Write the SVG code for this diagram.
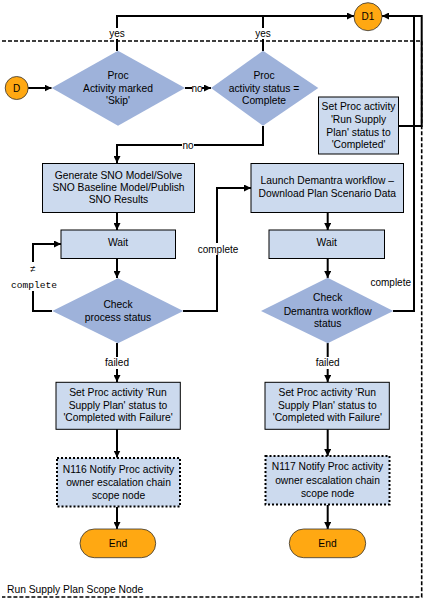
<svg xmlns="http://www.w3.org/2000/svg" width="432" height="600" viewBox="0 0 432 600">
<style>
text{font-family:"Liberation Sans",Arial,sans-serif;font-size:10.3px;fill:#000;text-anchor:middle}
.lbl{font-size:10px}
.mono{font-family:"Liberation Mono","Courier New",monospace;font-size:9.6px}
.box{fill:#CCDAEE;stroke:#000;stroke-width:1}
.dot{fill:#CCDAEE;stroke:#000;stroke-width:2;stroke-dasharray:2 2}
.dia{fill:#9EB2DA;stroke:none}
.term{fill:#FFA812;stroke:#333;stroke-width:0.8}
.ln{fill:none;stroke:#000;stroke-width:2}
.bg{fill:#fff}
.scope{fill:none;stroke:#000;stroke-width:1.6;stroke-dasharray:4 2}
</style>
<defs>
<marker id="ah" markerUnits="userSpaceOnUse" markerWidth="7" markerHeight="7" refX="7" refY="3.5" orient="auto">
<path d="M0,0 L7,3.5 L0,7 z" fill="#000"/>
</marker>
</defs>
<rect width="432" height="600" fill="#fff"/>
<g id="scope">
<path class="scope" d="M2,41 H421.7 V597 H2"/>
<text x="7" y="593" style="text-anchor:start">Run Supply Plan Scope Node</text>
</g>
<g id="connectors">
<path class="ln" d="M28,88 H51.5" marker-end="url(#ah)"/>
<path class="ln" d="M185,88 H211" marker-end="url(#ah)"/>
<path class="ln" d="M117,51 V16 H354" marker-end="url(#ah)"/>
<path class="ln" d="M263,51 V16"/>
<path class="ln" d="M263,126 V145 H117 V163" marker-end="url(#ah)"/>
<path class="ln" d="M117,212 V230" marker-end="url(#ah)"/>
<path class="ln" d="M117,258 V278" marker-end="url(#ah)"/>
<path class="ln" d="M52,311 H33 V244 H61" marker-end="url(#ah)"/>
<path class="ln" d="M183,311 H217 V188 H251" marker-end="url(#ah)"/>
<path class="ln" d="M327.7,212 V230" marker-end="url(#ah)"/>
<path class="ln" d="M327.7,258 V278" marker-end="url(#ah)"/>
<path class="ln" d="M393,311 H414 V16 H382" marker-end="url(#ah)"/>
<path class="ln" d="M398,126 H421.7 V16 H413"/>
<path class="ln" d="M117,343 V382" marker-end="url(#ah)"/>
<path class="ln" d="M117,429 V457.5" marker-end="url(#ah)"/>
<path class="ln" d="M117,507 V529" marker-end="url(#ah)"/>
<path class="ln" d="M327.7,343 V382" marker-end="url(#ah)"/>
<path class="ln" d="M327.7,429 V456" marker-end="url(#ah)"/>
<path class="ln" d="M327.7,505 V529" marker-end="url(#ah)"/>
<rect class="bg" x="107" y="28" width="20" height="11"/>
<text class="lbl" x="117" y="36.5">yes</text>
<rect class="bg" x="253" y="28" width="20" height="11"/>
<text class="lbl" x="263" y="36.5">yes</text>
<rect class="bg" x="192" y="83" width="10" height="10"/>
<text class="lbl" x="197" y="91.5">no</text>
<rect class="bg" x="182" y="140" width="12" height="10"/>
<text class="lbl" x="188" y="148.5">no</text>
<rect class="bg" x="9" y="262" width="48" height="29"/>
<text class="mono" x="33" y="272">≠</text>
<text class="mono" x="34" y="288">complete</text>
<rect class="bg" x="196" y="243" width="44" height="12"/>
<text class="lbl" x="218" y="252.5">complete</text>
<text class="lbl" x="411" y="285.5" style="text-anchor:end">complete</text>
<rect class="bg" x="103" y="357" width="29" height="12"/>
<text class="lbl" x="117" y="366">failed</text>
<rect class="bg" x="313" y="357" width="29" height="12"/>
<text class="lbl" x="327.7" y="366">failed</text>
</g>
<g id="D">
<circle class="term" cx="16.7" cy="88" r="11.5"/>
<text class="lbl" x="16.7" y="91.5">D</text>
</g>
<g id="D1">
<circle class="term" cx="368" cy="16.7" r="14"/>
<text class="lbl" x="368" y="20.2">D1</text>
</g>
<g id="skip">
<polygon class="dia" points="118,50.7 185,88 118,125.7 51.7,88"/>
<text x="118" y="78.5">Proc</text>
<text x="118" y="91.5">Activity marked</text>
<text x="118" y="103.5">'Skip'</text>
</g>
<g id="complete">
<polygon class="dia" points="263,50.7 318.3,88 263,125.7 211,88"/>
<text x="264" y="78.5">Proc</text>
<text x="264" y="91.5">activity status =</text>
<text x="264" y="103.5">Complete</text>
</g>
<g id="setcompleted">
<rect class="box" x="318.5" y="97" width="80" height="57"/>
<text x="358.5" y="109.5">Set Proc activity</text>
<text x="358.5" y="122.5">'Run Supply</text>
<text x="358.5" y="135.5">Plan' status to</text>
<text x="358.5" y="147.5">'Completed'</text>
</g>
<g id="generate">
<rect class="box" x="42.5" y="163.5" width="152" height="49"/>
<text x="118.5" y="178.5">Generate SNO Model/Solve</text>
<text x="118.5" y="190.5">SNO Baseline Model/Publish</text>
<text x="118.5" y="203">SNO Results</text>
</g>
<g id="wait1">
<rect class="box" x="61" y="230" width="114.5" height="28.5"/>
<text x="118" y="246">Wait</text>
</g>
<g id="check1">
<polygon class="dia" points="118,278.3 183.3,311 118,343.3 52.3,311"/>
<text x="118" y="308">Check</text>
<text x="118" y="320.5">process status</text>
</g>
<g id="launch">
<rect class="box" x="251" y="163.5" width="152.5" height="49"/>
<text x="327.3" y="184">Launch Demantra workflow –</text>
<text x="327.3" y="197">Download Plan Scenario Data</text>
</g>
<g id="wait2">
<rect class="box" x="269" y="230" width="115.5" height="28.5"/>
<text x="326.7" y="246">Wait</text>
</g>
<g id="check2">
<polygon class="dia" points="327.7,277.7 393.3,311 327.7,343.3 261,311"/>
<text x="327.7" y="301">Check</text>
<text x="327.7" y="314.5">Demantra workflow</text>
<text x="327.7" y="327">status</text>
</g>
<g id="fail1">
<rect class="box" x="56" y="382.3" width="124.3" height="47"/>
<text x="118" y="396">Set Proc activity 'Run</text>
<text x="118" y="409">Supply Plan' status to</text>
<text x="118" y="421">'Completed with Failure'</text>
</g>
<g id="n116">
<rect class="dot" x="57" y="458" width="123" height="48.5"/>
<text x="118.5" y="473">N116 Notify Proc activity</text>
<text x="118.5" y="485.5">owner escalation chain</text>
<text x="118.5" y="498.5">scope node</text>
</g>
<g id="end1">
<rect class="term" x="80" y="529" width="75.7" height="28.7" rx="14.3"/>
<text x="118" y="546.5">End</text>
</g>
<g id="fail2">
<rect class="box" x="265" y="382.3" width="124.3" height="47"/>
<text x="327.3" y="396">Set Proc activity 'Run</text>
<text x="327.3" y="409">Supply Plan' status to</text>
<text x="327.3" y="421">'Completed with Failure'</text>
</g>
<g id="n117">
<rect class="dot" x="265.5" y="456" width="124" height="48.5"/>
<text x="327.5" y="470">N117 Notify Proc activity</text>
<text x="327.5" y="483.5">owner escalation chain</text>
<text x="327.5" y="496.5">scope node</text>
</g>
<g id="end2">
<rect class="term" x="289.3" y="529" width="76.4" height="28.7" rx="14.3"/>
<text x="327.5" y="546.5">End</text>
</g>
</svg>
